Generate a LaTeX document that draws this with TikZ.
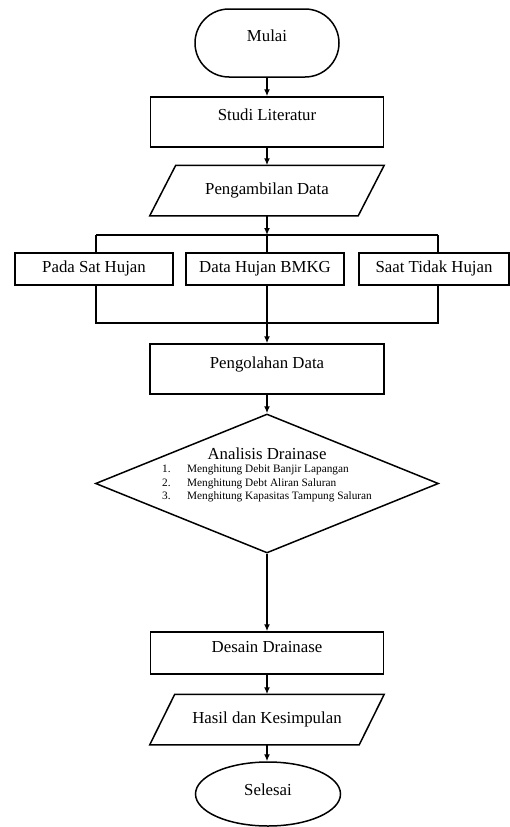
\documentclass[tikz,border=0pt]{standalone}
\usepackage{fontspec}
\setmainfont{Liberation Serif}
\usetikzlibrary{shapes.misc,shapes.geometric,arrows.meta}
\begin{document}
\begin{tikzpicture}[x=1pt,y=-1pt,
  line width=1.5pt,
  every node/.style={font=\fontsize{16.8}{19}\selectfont, inner sep=0pt},
  lbl/.style={text height=11pt, text depth=#1},
  lbl/.default=3.7pt,
  box/.style={draw, rectangle},
  term/.style={draw, rounded rectangle},
  endell/.style={draw, ellipse},
  para/.style={draw=none, rectangle},
  arr/.style={-{Latex[length=7pt,width=6pt]}},
]
\useasboundingbox (0,0) rectangle (510,827);

% nodes
\node[term, minimum width=144pt, minimum height=68pt, lbl=13.7pt] (mulai) at (267,43) {Mulai};
\node[box, minimum width=233pt, minimum height=50pt, lbl=13.7pt] (studi) at (267,122) {Studi Literatur};
\node[para, minimum width=207pt, minimum height=49pt, lbl] (peng) at (267,190.5) {Pengambilan Data};
\draw ([xshift=13pt]peng.north west) -- ([xshift=13pt]peng.north east)
   -- ([xshift=-13pt]peng.south east) -- ([xshift=-13pt]peng.south west) -- cycle;

\node[box, minimum width=158pt, minimum height=32pt, lbl] (b1) at (94,269) {Pada Sat Hujan};
\node[box, minimum width=158pt, minimum height=32pt, lbl] (b2) at (265,269) {Data Hujan BMKG};
\node[box, minimum width=150pt, minimum height=32pt, lbl] (b3) at (434,269) {Saat Tidak Hujan};

\coordinate (sl) at (96,235);
\coordinate (sm) at (267,235);
\coordinate (sr) at (438,235);
\coordinate (ml) at (96,323);
\coordinate (mr) at (438,323);

\node[box, minimum width=234pt, minimum height=50pt, lbl=11.7pt] (olah) at (267,369) {Pengolahan Data};

\node[draw, diamond, minimum width=343pt, minimum height=139pt] (dia) at (267,483.5) {};
\node (atext) at (267,475.6) {\fontsize{11.3}{13.5}\selectfont
  \begin{tabular}{@{}l@{\hspace{16.5pt}}l@{}}
  \multicolumn{2}{c}{\fontsize{16.8}{19}\selectfont Analisis Drainase}\\
  1. & Menghitung Debit Banjir Lapangan\\
  2. & Menghitung Debt Aliran Saluran\\
  3. & Menghitung Kapasitas Tampung Saluran
  \end{tabular}};

\node[box, minimum width=233pt, minimum height=42pt, lbl=11.7pt] (desain) at (267,653) {Desain Drainase};
\node[para, minimum width=208pt, minimum height=49pt, lbl] (hasil) at (267,719.5) {Hasil dan Kesimpulan};
\draw ([xshift=12.5pt]hasil.north west) -- ([xshift=12.5pt]hasil.north east)
   -- ([xshift=-12.5pt]hasil.south east) -- ([xshift=-12.5pt]hasil.south west) -- cycle;
\node[endell, minimum width=145pt, minimum height=64pt, lbl=7.7pt] (selesai) at (268,794) {Selesai};

% connectors
\draw[arr] (mulai.south) -- (studi.north);
\draw[arr] (studi.south) -- (peng.north);
\draw[arr] (peng.south) -- (sm);
\draw (sl) -- (sr);
\draw (sl) -- (sl |- b1.north);
\draw (sm) -- (sm |- b2.north);
\draw (sr) -- (sr |- b3.north);
\draw (sl |- b1.south) -- (ml) -- (mr) -- (mr |- b3.south);
\draw[arr] (sm |- b2.south) -- (olah.north);
\draw[arr] (olah.south) -- (dia.north);
\draw[arr] (dia.south) -- (desain.north);
\draw[arr] (desain.south) -- (hasil.north);
\draw[arr] (hasil.south) -- (selesai.north -| hasil.south);
\end{tikzpicture}
\end{document}
